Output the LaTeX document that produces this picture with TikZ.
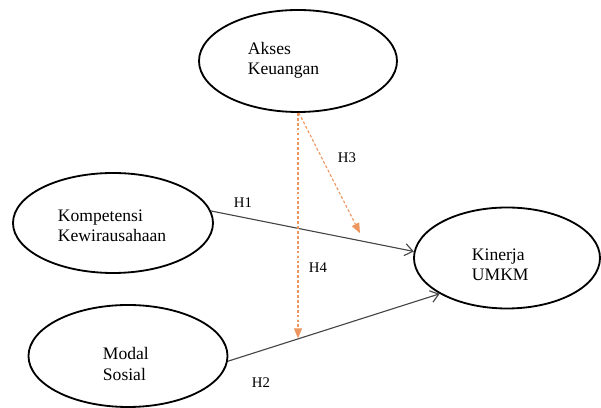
\documentclass[tikz,border=0pt]{standalone}
\usepackage{fontspec}
\setmainfont{Liberation Serif}
\usetikzlibrary{arrows.meta,shapes.geometric}
\definecolor{hipo}{RGB}{238,150,95}
\definecolor{garis}{RGB}{70,70,70}

\begin{document}
\begin{tikzpicture}[
  var/.style={shape=ellipse, draw=black, line width=1.3pt, inner sep=0pt},
  teks/.style={anchor=west, align=left, font=\fontsize{12.5}{14.5}\selectfont},
  hlabel/.style={font=\fontsize{10.5}{12}\selectfont},
  jalur/.style={draw=garis, line width=0.8pt, -{Straight Barb[length=2mm,width=3mm]}},
  moderasi/.style={draw=hipo, line width=0.8pt, dash pattern=on 2pt off 1.5pt, -{Triangle[length=2.5mm,width=2mm]}}
]
\useasboundingbox (0,0) rectangle (15.025,-10.2);
\node[var, minimum width=4.95cm, minimum height=2.55cm] (AK) at (7.45,-1.525) {};
\node[var, minimum width=5cm, minimum height=2.5cm] (KK) at (2.825,-5.575) {};
\node[var, minimum width=4.65cm, minimum height=2.525cm] (KU) at (12.675,-6.45) {};
\node[var, minimum width=4.975cm, minimum height=2.55cm] (MS) at (3.2,-8.9) {};
\node[teks] (AKt) at (6.075,-1.5) {Akses\\Keuangan};
\node[teks] (KKt) at (1.325,-5.65) {Kompetensi\\Kewirausahaan};
\node[teks] (KUt) at (11.675,-6.625) {Kinerja\\UMKM};
\node[teks] (MSt) at (2.45,-9.1) {Modal\\Sosial};
\draw[jalur] (KK.7) -- (KU.176);
\draw[jalur] (MS.-3) -- coordinate[pos=0.34] (h4) (KU.208);
\coordinate (h3) at (9.0,-5.83);
\draw[moderasi] (AK.south) -- (AK.south |- h4);
\draw[moderasi] (AK.-89) -- (h3);
\node[hlabel] (H1) at (6.075,-5.075) {H1};
\node[hlabel] (H2) at (6.525,-9.575) {H2};
\node[hlabel] (H3) at (8.675,-3.95) {H3};
\node[hlabel] (H4) at (7.95,-6.7) {H4};
\end{tikzpicture}
\end{document}
